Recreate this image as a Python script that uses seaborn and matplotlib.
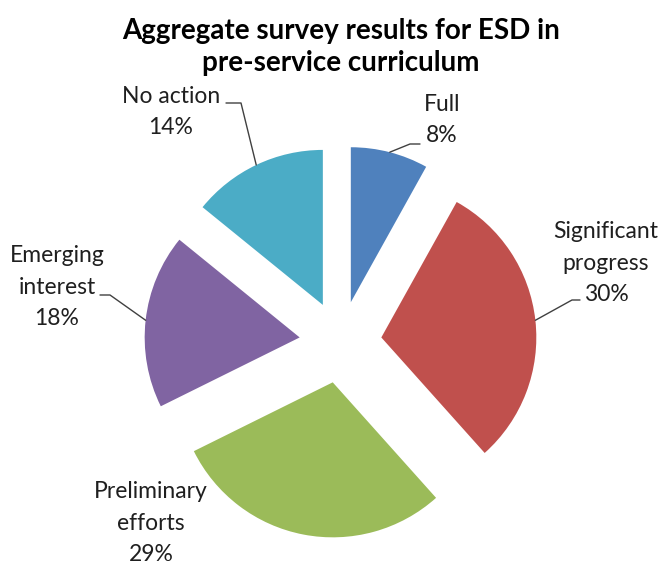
import numpy as np
import matplotlib
matplotlib.use("Agg")
import matplotlib.pyplot as plt
import seaborn as sns

# data
categories = ["Full", "Significant\nprogress", "Preliminary\nefforts", "Emerging\ninterest", "No action"]
percents = [8, 30, 29, 18, 14]
colors = ["#4F81BD", "#C0504D", "#9BBB59", "#8064A2", "#4BACC6"]

sns.set_theme(style="white")
plt.rcParams["font.family"] = ["Lato", "DejaVu Sans"]

W, H = 662, 566
CX, CY, R = 340.5, 342, 155  # pie centre / radius in pixels


def px(x, y):
    # pixel position -> data coords (pie radius = 1)
    return (x - CX) / R, (CY - y) / R


fig = plt.figure(figsize=(W / 100, H / 100), dpi=100)
ax = fig.add_axes([0, 0, 1, 1])

wedges, _ = ax.pie(percents, colors=colors, startangle=90, counterclock=False,
                   explode=[0.265] * len(percents), radius=1,
                   wedgeprops=dict(linewidth=0))

ax.set_xlim(-CX / R, (W - CX) / R)
ax.set_ylim(-(H - CY) / R, CY / R)
ax.set_aspect("equal")
ax.axis("off")

# label text centres (pixels)
label_pos = [(442, 120), (606, 263), (151, 523), (57, 287), (171, 112)]
# leader line elbow and end points (pixels), None = no leader
leaders = [[(410, 144), (420, 144)],
           [(572, 300), (580, 300)],
           None,
           [(110, 295), (100, 295)],
           [(241, 103), (226, 103)]]

for w, cat, val, lp, ld in zip(wedges, categories, percents, label_pos, leaders):
    ax.text(*px(*lp), f"{cat}\n{val}%", ha="center", va="center",
            fontsize=16.5, color="#1f1f1f", linespacing=1.62)
    if ld is None:
        continue
    mid = np.deg2rad((w.theta1 + w.theta2) / 2)
    x0 = w.center[0] + w.r * np.cos(mid)
    y0 = w.center[1] + w.r * np.sin(mid)
    pts = [(x0, y0)] + [px(*p) for p in ld]
    ax.plot([p[0] for p in pts], [p[1] for p in pts], color="#404040", lw=1)

ax.text(*px(341, 47), "Aggregate survey results for ESD in\npre-service curriculum",
        ha="center", va="center", fontsize=20, fontweight="bold", color="black",
        linespacing=1.3)

fig.savefig("out.png", dpi=100)
